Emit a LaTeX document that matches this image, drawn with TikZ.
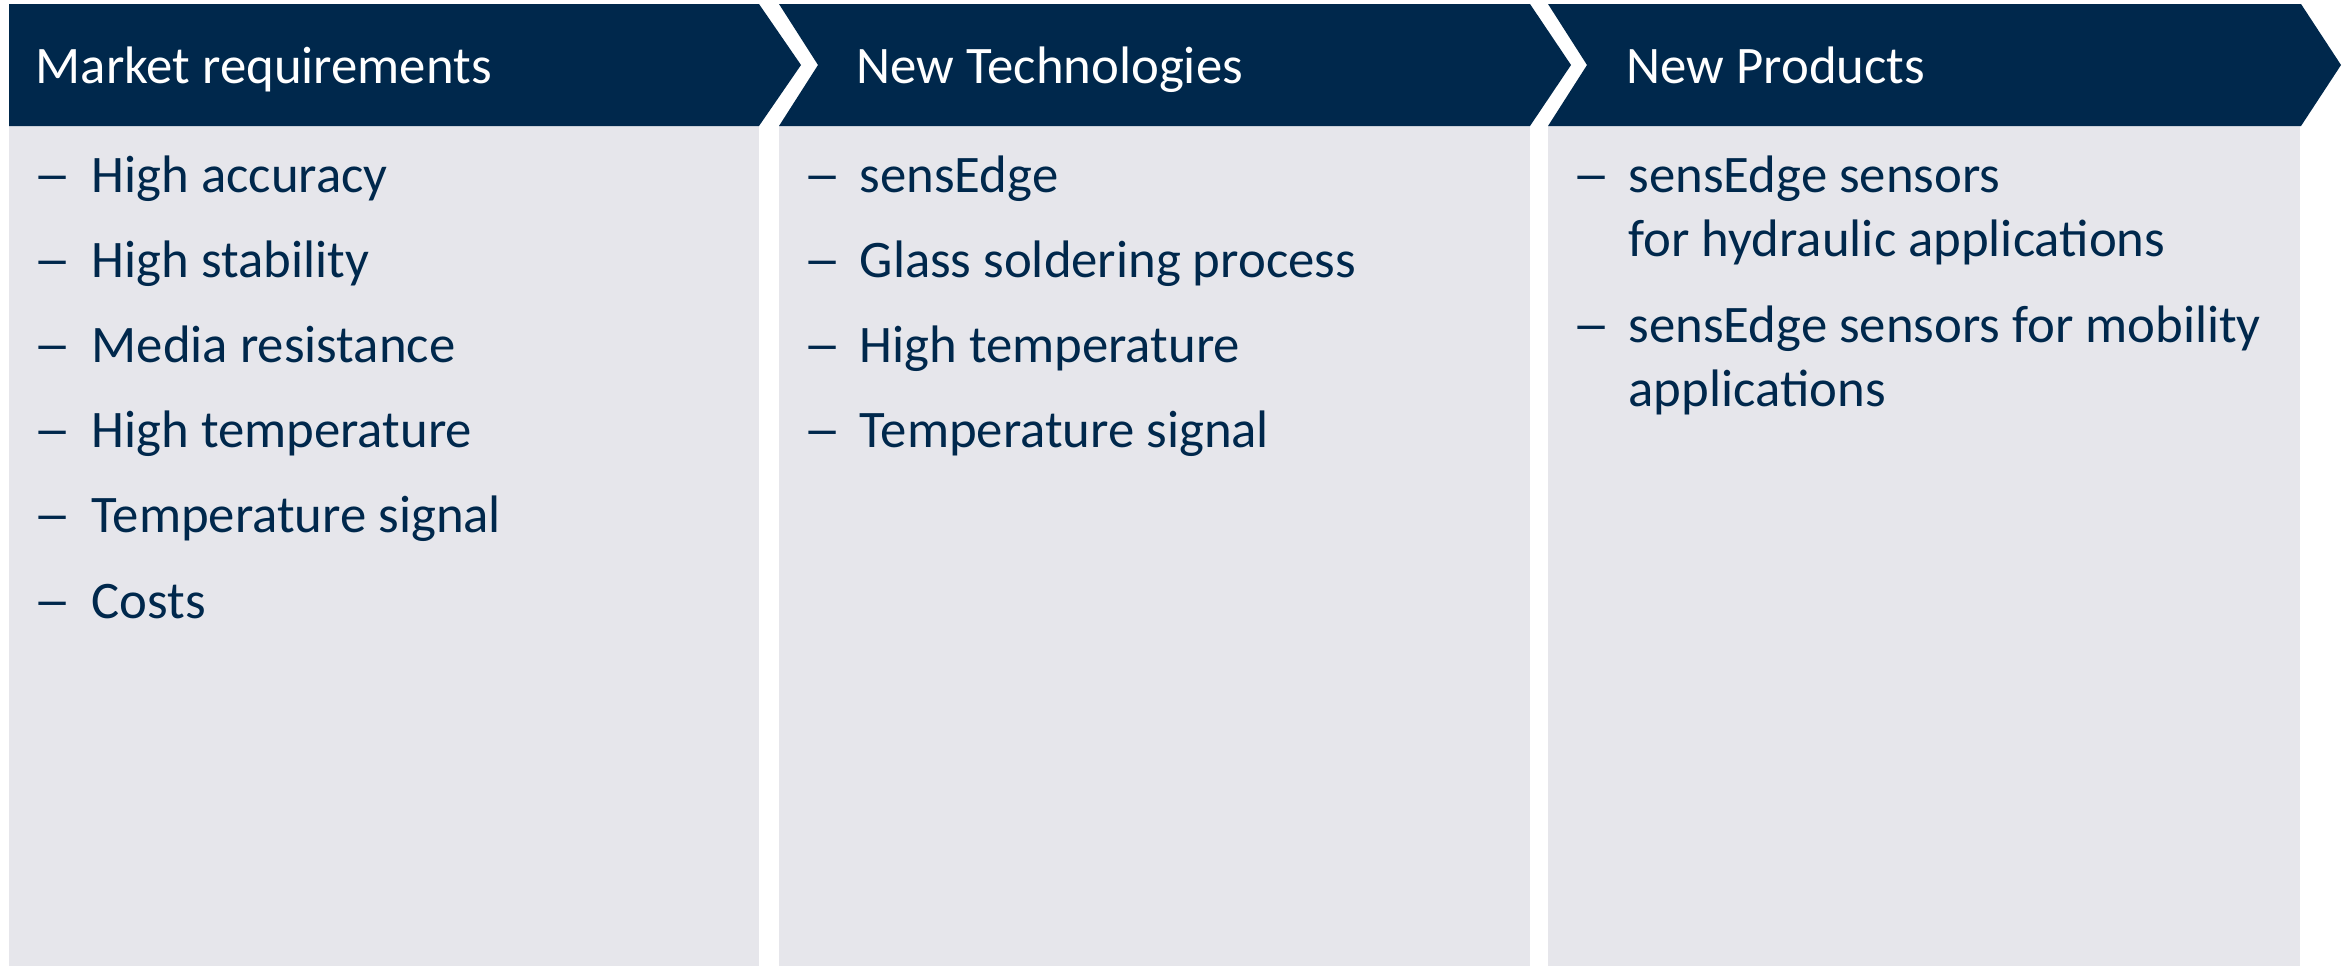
\documentclass[tikz,border=0pt]{standalone}
\usepackage{fontspec}
\setmainfont{Carlito}
\definecolor{navy}{RGB}{0,40,76}
\definecolor{panelgrey}{RGB}{230,230,235}
\begin{document}
\begin{tikzpicture}[x=0.01cm,y=-0.01cm,
  head/.style={fill=navy,draw=none},
  body/.style={fill=panelgrey,draw=none},
  htext/.style={anchor=base west,inner sep=0,text=white,font=\fontsize{15}{18}\selectfont},
  itext/.style={anchor=base west,inner sep=0,text=navy,font=\fontsize{15}{18}\selectfont},
  dashmark/.style={anchor=base west,inner sep=0,text=navy,font=\fontsize{15}{18}\selectfont}]
\useasboundingbox (0,0) rectangle (2352,966);
% panel 1
\fill[body] (9,126) rectangle (759,966);
\fill[head] (9,4) -- (759,4) -- (801,65) -- (759,126) -- (9,126) -- cycle;
% panel 2
\fill[body] (779,126) rectangle (1530,966);
\fill[head] (779,4) -- (1530,4) -- (1571,65) -- (1530,126) -- (779,126) -- (818,65) -- cycle;
% panel 3
\fill[body] (1548,126) rectangle (2300,966);
\fill[head] (1548,4) -- (2301,4) -- (2341,65) -- (2301,126) -- (1548,126) -- (1587,65) -- cycle;
% headers
\node[htext] (h1) at (35,83) {Market requirements};
\node[htext] (h2) at (856,83) {New Technologies};
\node[htext] (h3) at (1626,83) {New Products};
% panel 1 items
\foreach \t [count=\i] in {High accuracy,High stability,Media resistance,High temperature,Temperature signal,Costs}{
  \node[dashmark] (d1\i) at (33,{192+85.2*(\i-1)}) {\scalebox{1.45}[1]{–}};
  \node[itext] (a\i) at (91,{192+85.2*(\i-1)}) {\t};
}
% panel 2 items
\foreach \t [count=\i] in {sensEdge,Glass soldering process,High temperature,Temperature signal}{
  \node[dashmark] (d2\i) at (803,{192+85.2*(\i-1)}) {\scalebox{1.45}[1]{–}};
  \node[itext] (b\i) at (859,{192+85.2*(\i-1)}) {\t};
}
% panel 3 items
\node[dashmark] (d31) at (1572,192) {\scalebox{1.45}[1]{–}};
\node[itext] (c1a) at (1628,192) {sensEdge sensors};
\node[itext] (c1b) at (1628,256.5) {for hydraulic applications};
\node[dashmark] (d32) at (1572,342) {\scalebox{1.45}[1]{–}};
\node[itext] (c2a) at (1628,342) {sensEdge sensors for mobility};
\node[itext] (c2b) at (1628,406.5) {applications};
\end{tikzpicture}
\end{document}
